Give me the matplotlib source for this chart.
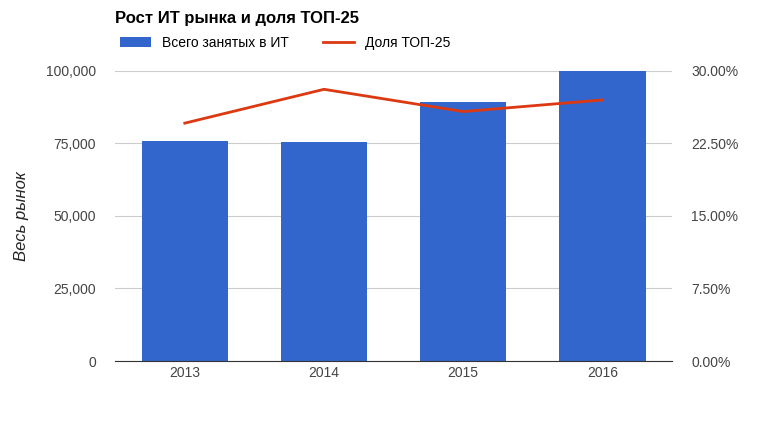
import matplotlib
matplotlib.use("Agg")
import matplotlib.pyplot as plt
from matplotlib.ticker import FuncFormatter

years = ["2013", "2014", "2015", "2016"]
total = [75900, 75600, 89300, 100000]
share = [24.6, 28.1, 25.8, 27.0]

plt.rcParams['font.family'] = ['Liberation Sans', 'DejaVu Sans']
fig = plt.figure(figsize=(7.68, 4.21), dpi=100)
ax = fig.add_axes([0.15, 0.1425, 0.725, 0.689])
x = range(len(years))
b = ax.bar(x, total, width=0.62, color='#3366cc', zorder=2, label='Всего занятых в ИТ')
ax.set_xlim(-0.5, 3.5)
ax.set_ylim(0, 100000)
ax.set_yticks([0, 25000, 50000, 75000, 100000])
ax.yaxis.set_major_formatter(FuncFormatter(lambda v, p: f"{int(v):,}"))
ax.grid(axis='y', color='#cccccc', lw=0.8, zorder=0)
for s in ['top', 'right', 'left']:
    ax.spines[s].set_visible(False)
ax.spines['bottom'].set_color('#333333')
ax.tick_params(length=0, colors='#444444', labelsize=10)
ax.tick_params(axis='y', pad=14)
ax.set_xticks(list(x))
ax.set_xticklabels(years)
ax.set_ylabel('Весь рынок', fontsize=12, style='italic', color='#222222', labelpad=12)

ax2 = ax.twinx()
l, = ax2.plot(x, share, color='#dc3912', lw=2, label='Доля ТОП-25')
ax2.set_ylim(0, 30)
ax2.set_yticks([0, 7.5, 15, 22.5, 30])
ax2.yaxis.set_major_formatter(FuncFormatter(lambda v, p: f"{v:.2f}%"))
for s in ax2.spines.values():
    s.set_visible(False)
ax2.tick_params(length=0, colors='#444444', labelsize=10, pad=14)

fig.text(0.15, 0.945, 'Рост ИТ рынка и доля ТОП-25', fontsize=12, fontweight='bold')
fig.legend([b, l], ['Всего занятых в ИТ', 'Доля ТОП-25'], loc='upper left',
           bbox_to_anchor=(0.14, 0.945), ncol=2, frameon=False, fontsize=10,
           handlelength=2.2, columnspacing=2.5)
fig.savefig('out.png', dpi=100)
